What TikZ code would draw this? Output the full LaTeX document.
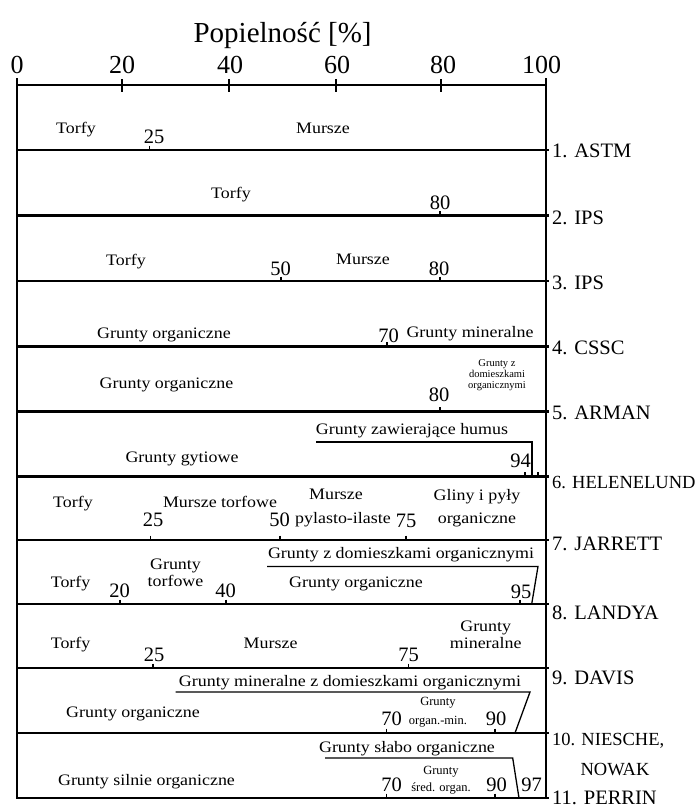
\documentclass[tikz,border=0pt]{standalone}
\usepackage{fontspec}
\setmainfont{Liberation Serif}
\newfontfamily\widefont[FakeStretch=1.12]{Liberation Serif}
\begin{document}
\begin{tikzpicture}[x=1pt,y=-1pt,
  every node/.style={inner sep=0pt, anchor=base},
  txt/.style={font=\widefont\fontsize{16}{17}\selectfont},
  num/.style={font=\fontsize{20.5}{21}\selectfont},
  axnum/.style={font=\fontsize{26}{27}\selectfont},
  small/.style={font=\fontsize{10.5}{11}\selectfont},
  smallb/.style={font=\fontsize{12.5}{13}\selectfont},
  lab/.style={font=\fontsize{20.5}{21}\selectfont, anchor=base west},
  labs/.style={font=\fontsize{18.5}{19}\selectfont, anchor=base west},
  frame/.style={line width=2.2pt},
  sep/.style={line width=2.5pt},
  brk/.style={line width=1.3pt},
  tk/.style={line width=1.5pt}]
\useasboundingbox (0,0) rectangle (700,809);

% title and axis
\node[font=\fontsize{29}{30}\selectfont] (title) at (282.6,42) {Popielność [\%]};
\node[axnum] (a0) at (17,73) {0};
\node[axnum] (a20) at (122,73) {20};
\node[axnum] (a40) at (230,73) {40};
\node[axnum] (a60) at (337,73) {60};
\node[axnum] (a80) at (443,73) {80};
\node[axnum] (a100) at (541.5,73) {100};
\coordinate (axL) at (17,85);
\coordinate (axR) at (546,85);
\draw[sep] (axL) -- (axR);
\foreach \x in {122,229,336,441} \draw[tk] (\x,79) -- (\x,92);

% frame
\coordinate (fTL) at (17,78);
\coordinate (fBL) at (17,798);
\coordinate (fTR) at (546,78);
\coordinate (fBR) at (546,798);
\draw[frame] (fTL) -- (fBL);
\draw[frame] (fTR) -- (fBR);
\foreach \y in {150,215.5,281,346.5,411.5,476.5,540,604,668,733,798}
  \draw[sep] (16,\y) -- (549,\y);

% value ticks on row bottoms
\foreach \x/\y in {149.3/150, 440/215.5, 281/281, 440/281, 387/346.5, 440/411.5,
  525/476.5, 538/476.5, 150.7/540, 280/540, 406/540, 120/604, 226/604, 520/604,
  153/668, 408.5/668, 386.7/733, 495/733, 386.7/798, 495/798}
  \draw[tk] (\x,\y-4.5) -- (\x,\y);

% row 1
\node[txt] (r1a) at (76,133) {Torfy};
\node[num] (r1n) at (154,143) {25};
\node[txt] (r1b) at (323,133) {Mursze};
% row 2
\node[txt] (r2a) at (231,198.5) {Torfy};
\node[num] (r2n) at (440,209) {80};
% row 3
\node[txt] (r3a) at (126,265.5) {Torfy};
\node[num] (r3n1) at (280.6,275) {50};
\node[txt] (r3b) at (363,264.5) {Mursze};
\node[num] (r3n2) at (439,275) {80};
% row 4
\node[txt] (r4a) at (164,338.5) {Grunty organiczne};
\node[num] (r4n) at (388.6,342) {70};
\node[txt] (r4b) at (470,337.5) {Grunty mineralne};
% row 5
\node[txt] (r5a) at (166.5,388.5) {Grunty organiczne};
\node[num] (r5n) at (439,401) {80};
\node[small] (r5b1) at (497,366.5) {Grunty z};
\node[small] (r5b2) at (497,377.8) {domieszkami};
\node[small] (r5b3) at (497,388.8) {organicznymi};
% row 6
\node[txt] (r6t) at (412,434.5) {Grunty zawierające humus};
\coordinate (r6s) at (316,442);
\coordinate (r6c) at (532,442);
\coordinate (r6e) at (532,476.5);
\draw[brk] (r6s) -- (r6c) -- (r6e);
\node[txt] (r6a) at (182,462.5) {Grunty gytiowe};
\node[num] (r6n) at (520.5,467) {94};
% row 7
\node[txt] (r7a) at (73,507) {Torfy};
\node[txt] (r7b) at (220,507) {Mursze torfowe};
\node[num] (r7n1) at (153,526) {25};
\node[num] (r7n2) at (279.5,526) {50};
\node[txt] (r7c1) at (336,499) {Mursze};
\node[txt] (r7c2) at (343,523.5) {pylasto-ilaste};
\node[num] (r7n3) at (406,527) {75};
\node[txt] (r7d1) at (477,500) {Gliny i pyły};
\node[txt] (r7d2) at (477,523) {organiczne};
% row 8
\node[txt] (r8t) at (401,558.5) {Grunty z domieszkami organicznymi};
\coordinate (r8s) at (267,566.5);
\coordinate (r8c) at (538,566.5);
\coordinate (r8e) at (531.7,604);
\draw[brk] (r8s) -- (r8c) -- (r8e);
\node[txt] (r8a) at (70.6,587.5) {Torfy};
\node[txt] (r8b1) at (175.5,569.5) {Grunty};
\node[txt] (r8b2) at (175.5,586.5) {torfowe};
\node[num] (r8n1) at (119.7,597) {20};
\node[num] (r8n2) at (225.5,597) {40};
\node[txt] (r8c) at (356,587.5) {Grunty organiczne};
\node[num] (r8n3) at (521,598.7) {95};
% row 9
\node[txt] (r9a) at (70.6,648.5) {Torfy};
\node[num] (r9n1) at (154,661) {25};
\node[txt] (r9b) at (270.6,648.5) {Mursze};
\node[num] (r9n2) at (408.5,661) {75};
\node[txt] (r9c1) at (485.7,631.5) {Grunty};
\node[txt] (r9c2) at (485.7,648.5) {mineralne};
% row 10
\node[txt] (r10t) at (350,686.5) {Grunty mineralne z domieszkami organicznymi};
\coordinate (r10s) at (175.5,692);
\coordinate (r10c) at (530,692);
\coordinate (r10e) at (515,733);
\draw[brk] (r10s) -- (r10c) -- (r10e);
\node[txt] (r10a) at (133,717.5) {Grunty organiczne};
\node[num] (r10n1) at (391.7,725.5) {70};
\node[smallb] (r10b1) at (438,705.5) {Grunty};
\node[smallb] (r10b2) at (438,724) {organ.-min.};
\node[num] (r10n2) at (496,725.5) {90};
% row 11
\node[txt] (r11t) at (407,752.5) {Grunty słabo organiczne};
\coordinate (r11s) at (325,758);
\coordinate (r11c) at (512.7,758);
\coordinate (r11e) at (519,798);
\draw[brk] (r11s) -- (r11c) -- (r11e);
\node[txt] (r11a) at (146.5,785) {Grunty silnie organiczne};
\node[num] (r11n1) at (391.7,791.5) {70};
\node[smallb] (r11b1) at (441,774) {Grunty};
\node[smallb] (r11b2) at (441,791) {śred. organ.};
\node[num] (r11n2) at (496.7,791.5) {90};
\node[num] (r11n3) at (531.7,791.5) {97};

% right labels
\node[lab] (l1) at (552,157) {1. ASTM};
\node[lab] (l2) at (552,224.5) {2. IPS};
\node[lab] (l3) at (552,289) {3. IPS};
\node[lab] (l4) at (552,354) {4. CSSC};
\node[lab] (l5) at (552,419) {5. ARMAN};
\node[labs] (l6) at (552,488.5) {6. HELENELUND};
\node[lab] (l7) at (552,550) {7. JARRETT};
\node[lab] (l8) at (552,619) {8. LANDYA};
\node[lab] (l9) at (552,684) {9. DAVIS};
\node[labs] (l10) at (552,745) {10. NIESCHE,};
\node[labs, anchor=base] (l10b) at (615,775) {NOWAK};
\node[lab] (l11) at (552,804) {11. PERRIN};
\end{tikzpicture}
\end{document}
